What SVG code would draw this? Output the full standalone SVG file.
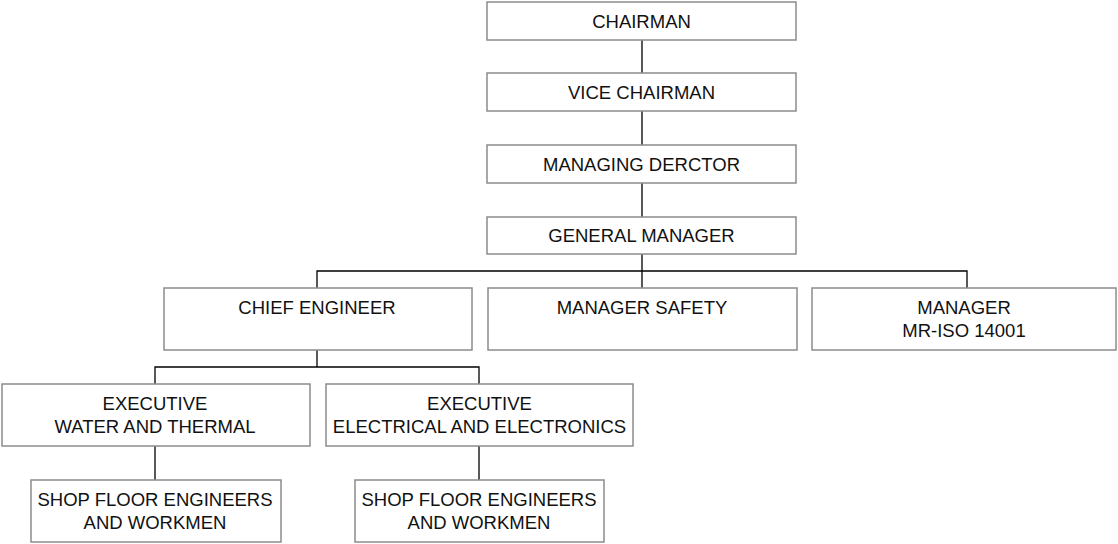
<svg xmlns="http://www.w3.org/2000/svg" width="1118" height="544" viewBox="0 0 1118 544">
<style>
.box{fill:#fff;stroke:#8c8c8c;stroke-width:1.5}
.lbl{font-family:"Liberation Sans",Arial,sans-serif;font-size:18.5px;fill:#111;text-anchor:middle}
.conn{fill:none;stroke:#000;stroke-width:1.3}
</style>
<rect width="1118" height="544" fill="#fff"/>
<g id="connectors" class="conn">
<path d="M642 40V73M642 111V145M642 183V217M642 254V288"/>
<path d="M317 288V271H967V288"/>
<path d="M317 350V367M155 384V367H479V384"/>
<path d="M155 446V480M479 446V480"/>
</g>
<g id="chairman"><rect class="box" x="487" y="2" width="309" height="38"/><text class="lbl" x="641.5" y="28">CHAIRMAN</text></g>
<g id="vice-chairman"><rect class="box" x="487" y="73" width="309" height="38"/><text class="lbl" x="641.5" y="99">VICE CHAIRMAN</text></g>
<g id="managing-director"><rect class="box" x="487" y="145" width="309" height="38"/><text class="lbl" x="641.5" y="171">MANAGING DERCTOR</text></g>
<g id="general-manager"><rect class="box" x="487" y="217" width="309" height="37"/><text class="lbl" x="641.5" y="242">GENERAL MANAGER</text></g>
<g id="chief-engineer"><rect class="box" x="164" y="288" width="308" height="62"/><text class="lbl" x="317" y="314">CHIEF ENGINEER</text></g>
<g id="manager-safety"><rect class="box" x="488" y="288" width="309" height="62"/><text class="lbl" x="642" y="314">MANAGER SAFETY</text></g>
<g id="manager-mr"><rect class="box" x="812" y="288" width="304" height="62"/><text class="lbl" x="964" y="314">MANAGER</text><text class="lbl" x="964" y="337">MR-ISO 14001</text></g>
<g id="exec-water"><rect class="box" x="2" y="384" width="308" height="62"/><text class="lbl" x="155" y="410">EXECUTIVE</text><text class="lbl" x="155" y="433">WATER AND THERMAL</text></g>
<g id="exec-electrical"><rect class="box" x="326" y="384" width="307" height="62"/><text class="lbl" x="479.5" y="410">EXECUTIVE</text><text class="lbl" x="479.5" y="433">ELECTRICAL AND ELECTRONICS</text></g>
<g id="shop-floor-1"><rect class="box" x="31" y="480" width="250" height="62"/><text class="lbl" x="155" y="506">SHOP FLOOR ENGINEERS</text><text class="lbl" x="155" y="529">AND WORKMEN</text></g>
<g id="shop-floor-2"><rect class="box" x="355" y="480" width="249" height="62"/><text class="lbl" x="479" y="506">SHOP FLOOR ENGINEERS</text><text class="lbl" x="479" y="529">AND WORKMEN</text></g>
</svg>
